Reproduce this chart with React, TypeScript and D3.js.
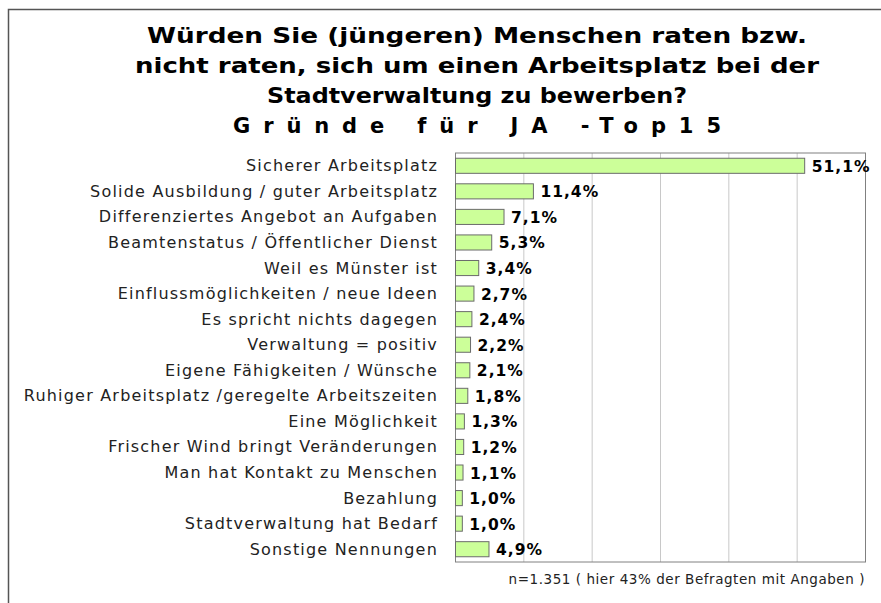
import React from "react";
import * as d3 from "d3";

const categories = [
  "Sicherer Arbeitsplatz",
  "Solide Ausbildung / guter Arbeitsplatz",
  "Differenziertes Angebot an Aufgaben",
  "Beamtenstatus / Öffentlicher Dienst",
  "Weil es Münster ist",
  "Einflussmöglichkeiten / neue Ideen",
  "Es spricht nichts dagegen",
  "Verwaltung = positiv",
  "Eigene Fähigkeiten / Wünsche",
  "Ruhiger Arbeitsplatz /geregelte Arbeitszeiten",
  "Eine Möglichkeit",
  "Frischer Wind bringt Veränderungen",
  "Man hat Kontakt zu Menschen",
  "Bezahlung",
  "Stadtverwaltung hat Bedarf",
  "Sonstige Nennungen",
];
const values = [51.1, 11.4, 7.1, 5.3, 3.4, 2.7, 2.4, 2.2, 2.1, 1.8, 1.3, 1.2, 1.1, 1.0, 1.0, 4.9];
const gridTicks = [10, 20, 30, 40, 50];
const titleLines = [
  "Würden Sie (jüngeren) Menschen raten bzw.",
  "nicht raten, sich um einen Arbeitsplatz bei der",
  "Stadtverwaltung zu bewerben?",
];
const subtitle = "Gründe für JA -Top15";
const note = "n=1.351 ( hier 43% der Befragten mit Angaben )";

const W = 881;
const H = 603;
const left = 455.5;
const right = 865.5;
const top = 153;
const bottom = 562;

export default function App() {
  const x = d3.scaleLinear().domain([0, 60]).range([left, right]);
  const y = d3
    .scaleBand<number>()
    .domain(d3.range(categories.length))
    .range([top, bottom])
    .paddingInner(0.41)
    .paddingOuter(0.205);
  const fmt = (v: number) => v.toFixed(1).replace(".", ",") + "%";
  const font = "'DejaVu Sans', Verdana, sans-serif";
  return (
    <svg
      width={W}
      height={H}
      style={{ position: "absolute", left: 0, top: 0, background: "#fff" }}
    >
      <rect x={0} y={0} width={W} height={H} fill="#fff" />
      {/* frame */}
      <path d={`M8.5,${H + 2} V9.5 H${W + 2}`} fill="none" stroke="#555" strokeWidth={1.5} />
      {/* title */}
      <g fontFamily={font} fontWeight="bold" fill="#000" textAnchor="middle">
        {titleLines.map((t, i) => (
          <text
            key={i}
            x={477}
            y={43 + i * 30}
            fontSize={22}
            textLength={[660, 684, 420][i]}
            lengthAdjust="spacingAndGlyphs"
          >
            {t}
          </text>
        ))}
        <text x={477} y={133} fontSize={21} textLength={488} lengthAdjust="spacing">
          {subtitle}
        </text>
      </g>
      {/* grid */}
      {gridTicks.map((t) => (
        <line
          key={t}
          x1={x(t)}
          x2={x(t)}
          y1={top}
          y2={bottom}
          stroke="#c8c8c8"
          strokeWidth={1}
        />
      ))}
      <rect
        x={left}
        y={top}
        width={right - left}
        height={bottom - top}
        fill="none"
        stroke="#808080"
        strokeWidth={1}
      />
      {/* bars */}
      {values.map((v, i) => (
        <rect
          key={i}
          x={x(0)}
          y={y(i)!}
          width={x(v) - x(0)}
          height={y.bandwidth()}
          fill="#ccff99"
          stroke="#6b6b6b"
          strokeWidth={1}
        />
      ))}
      {/* category labels */}
      <g fontFamily={font} fontSize={16} fill="#222" textAnchor="end" letterSpacing={1.2}>
        {categories.map((c, i) => (
          <text key={i} x={438} y={y(i)! + y.bandwidth() / 2 + 5.5}>
            {c}
          </text>
        ))}
      </g>
      {/* value labels */}
      <g fontFamily={font} fontSize={15.5} fontWeight="bold" fill="#000">
        {values.map((v, i) => (
          <text
            key={i}
            x={x(v) + 7}
            y={y(i)! + y.bandwidth() / 2 + 6}
            letterSpacing={1}
          >
            {fmt(v)}
          </text>
        ))}
      </g>
      <text
        x={865}
        y={584}
        fontFamily={font}
        fontSize={13.5}
        fill="#222"
        textAnchor="end"
        letterSpacing={0.55}
      >
        {note}
      </text>
    </svg>
  );
}
